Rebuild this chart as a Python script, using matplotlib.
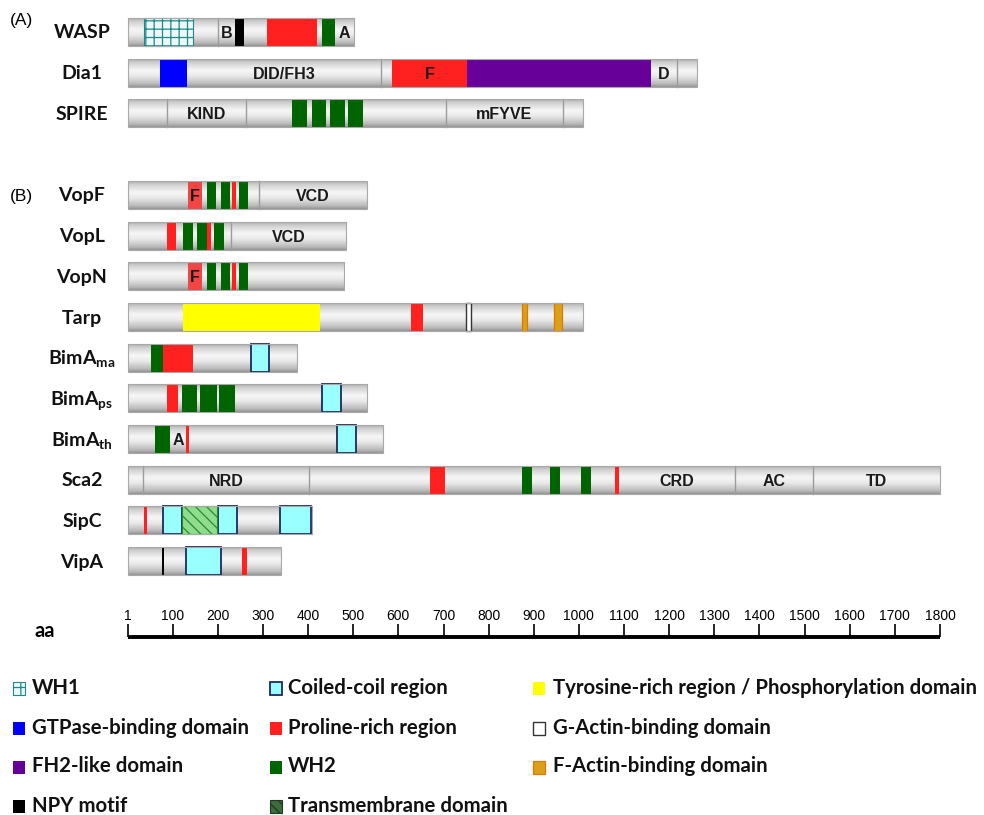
import matplotlib

matplotlib.use("Agg")
import matplotlib.pyplot as plt  # noqa: E402
import numpy as np  # noqa: E402
from matplotlib.colors import LinearSegmentedColormap  # noqa: E402
from matplotlib.patches import Rectangle  # noqa: E402

# ---- protein architecture data (amino-acid positions) ----
group_a = ["WASP", "Dia1", "SPIRE"]
group_b = ["VopF", "VopL", "VopN", "Tarp", "BimA_ma", "BimA_ps",
           "BimA_th", "Sca2", "SipC", "VipA"]

display_names = {
    "BimA_ma": r"$\mathbf{BimA_{ma}}$",
    "BimA_ps": r"$\mathbf{BimA_{ps}}$",
    "BimA_th": r"$\mathbf{BimA_{th}}$",
}

lengths = {
    "WASP": 502, "Dia1": 1262, "SPIRE": 1010,
    "VopF": 530, "VopL": 484, "VopN": 480, "Tarp": 1008,
    "BimA_ma": 376, "BimA_ps": 531, "BimA_th": 567,
    "Sca2": 1800, "SipC": 409, "VipA": 339,
}

wh1 = {"WASP": [(36, 145)]}
gtpase_binding = {"Dia1": [(72, 132)]}
fh2_like = {"Dia1": [(753, 1159)]}
npy_motif = {"WASP": [(238, 258)], "VipA": [(76, 80)]}
fh1_like = {"VopF": [(134, 165)], "VopN": [(134, 165)]}
proline_rich = {
    "WASP": [(309, 420)], "Dia1": [(587, 753)],
    "VopF": [(232, 241)], "VopL": [(88, 107), (176, 185)],
    "VopN": [(232, 241)], "Tarp": [(627, 655)],
    "BimA_ma": [(79, 145)], "BimA_ps": [(88, 112)], "BimA_th": [(130, 136)],
    "Sca2": [(671, 704), (1079, 1088)], "SipC": [(36, 43)], "VipA": [(254, 265)],
}
wh2 = {
    "WASP": [(431, 460)],
    "SPIRE": [(365, 398), (409, 440), (449, 482), (489, 522)],
    "VopF": [(176, 196), (207, 227), (247, 267)],
    "VopL": [(123, 145), (154, 176), (192, 214)],
    "VopN": [(176, 196), (207, 227), (247, 267)],
    "BimA_ma": [(52, 79)],
    "BimA_ps": [(121, 154), (161, 198), (203, 238)],
    "BimA_th": [(61, 94)],
    "Sca2": [(873, 895), (937, 957), (1004, 1026)],
}
tyrosine_rich = {"Tarp": [(123, 427)]}
g_actin_binding = {"Tarp": [(749, 762)]}
f_actin_binding = {"Tarp": [(873, 886), (944, 962)]}
coiled_coil = {
    "BimA_ma": [(274, 314)], "BimA_ps": [(431, 473)], "BimA_th": [(465, 507)],
    "SipC": [(79, 121), (201, 243), (338, 407)], "VipA": [(130, 207)],
}
transmembrane = {"SipC": [(121, 198)]}

# boundaries between unlabelled/labelled grey segments
dividers = {
    "WASP": [201], "Dia1": [562, 1217], "SPIRE": [88, 263, 706, 964],
    "VopF": [292], "VopL": [229], "Sca2": [34, 403, 1345, 1518],
}
region_labels = {
    "WASP": [("B", 201, 238), ("A", 460, 502)],
    "Dia1": [("DID/FH3", 132, 562), ("F", 587, 753), ("D", 1159, 1217)],
    "SPIRE": [("KIND", 88, 263), ("mFYVE", 706, 964)],
    "VopF": [("F", 134, 165), ("VCD", 292, 530)],
    "VopL": [("VCD", 229, 484)],
    "VopN": [("F", 134, 165)],
    "BimA_th": [("A", 94, 130)],
    "Sca2": [("NRD", 34, 403), ("CRD", 1088, 1345), ("AC", 1345, 1518), ("TD", 1518, 1800)],
}

ruler_ticks = [1] + list(range(100, 1801, 100))

legend_columns = [
    [("WH1", "wh1"), ("GTPase-binding domain", "gtpase"),
     ("FH2-like domain", "fh2"), ("NPY motif", "npy")],
    [("Coiled-coil region", "coil"), ("Proline-rich region", "pro"),
     ("WH2", "wh2"), ("Transmembrane domain", "tm_legend")],
    [("Tyrosine-rich region / Phosphorylation domain", "tyr"),
     ("G-Actin-binding domain", "gact"), ("F-Actin-binding domain", "fact")],
]

# ---- styles ----
styles = {
    "wh1": dict(facecolor="#eef8f8", edgecolor="#1f8a8a", hatch="++", lw=0.8),
    "gtpase": dict(facecolor="#0000ff", edgecolor="none"),
    "fh2": dict(facecolor="#660099", edgecolor="none"),
    "npy": dict(facecolor="#000000", edgecolor="none"),
    "fh1": dict(facecolor="#f24646", edgecolor="none"),
    "pro": dict(facecolor="#ff2020", edgecolor="none"),
    "wh2": dict(facecolor="#006400", edgecolor="none"),
    "tyr": dict(facecolor="#ffff00", edgecolor="none"),
    "gact": dict(facecolor="#ffffff", edgecolor="#333333", lw=1.0),
    "fact": dict(facecolor="#d9a01a", edgecolor="#e07800", lw=0.9),
    "coil": dict(facecolor="#99ffff", edgecolor="#1c2a5e", lw=1.3),
    "tm": dict(facecolor="#8fdc8f", edgecolor="#2a8a2a", hatch="\\\\\\", lw=0.8),
    "tm_legend": dict(facecolor="#3d6b3d", edgecolor="#1e3a1e", hatch="\\\\\\", lw=0.8),
}

domain_layers = [
    (tyrosine_rich, "tyr"), (wh1, "wh1"), (gtpase_binding, "gtpase"),
    (fh2_like, "fh2"), (fh1_like, "fh1"), (proline_rich, "pro"), (wh2, "wh2"),
    (npy_motif, "npy"), (g_actin_binding, "gact"), (f_actin_binding, "fact"),
    (coiled_coil, "coil"), (transmembrane, "tm"),
]

plt.rcParams["hatch.linewidth"] = 0.9
plt.rcParams["mathtext.fontset"] = "custom"
plt.rcParams["mathtext.bf"] = "Lato:bold"
plt.rcParams["mathtext.rm"] = "Lato"

NAME_FONT = ["Lato", "DejaVu Sans"]
BOX_FONT = ["Liberation Sans", "DejaVu Sans"]
NARROW_FONT = ["Liberation Sans Narrow", "Liberation Sans", "DejaVu Sans"]

FIG_W, FIG_H = 984, 815
BAR_H = 28
X0_PX, X1_PX = 128, 940  # pixel columns of residue 1 and residue 1800

fig = plt.figure(figsize=(FIG_W / 100, FIG_H / 100), dpi=100)

# bars: x in residues, y in pixel rows
ax = fig.add_axes([0, 0, 1, 1])
aa_per_px = (1800 - 1) / (X1_PX - X0_PX)
xlim = (1 - X0_PX * aa_per_px, 1 + (FIG_W - X0_PX) * aa_per_px)
ax.axis("off")

# overlay for names, panel tags and legend in pixel coordinates
ov = fig.add_axes([0, 0, 1, 1])
ov.set_xlim(0, FIG_W)
ov.set_ylim(FIG_H, 0)
ov.axis("off")

bar_cmap = LinearSegmentedColormap.from_list(
    "bar",
    [(0.0, "#b0b0b0"), (0.12, "#d0d0d0"), (0.4, "#f6f6f6"),
     (0.6, "#eaeaea"), (0.88, "#bcbcbc"), (1.0, "#969696")],
)
gradient = np.linspace(0, 1, 64).reshape(-1, 1)


def draw_protein(name, y):
    top, bottom = y - BAR_H / 2, y + BAR_H / 2
    length = lengths[name]
    ax.imshow(gradient, cmap=bar_cmap, extent=(1, length, bottom, top),
              aspect="auto", interpolation="bilinear", zorder=1)
    for x in dividers.get(name, []):
        ax.plot([x, x], [top, bottom], color="#9c9c9c", lw=1.0, zorder=2)
    for table, kind in domain_layers:
        for start, end in table.get(name, []):
            ax.add_patch(Rectangle((start, top), end - start, BAR_H,
                                   zorder=3, **styles[kind]))
    ax.add_patch(Rectangle((1, top), length - 1, BAR_H, fill=False,
                           ec="#a8a8a8", lw=0.8, zorder=4))
    for text, start, end in region_labels.get(name, []):
        ax.text((start + end) / 2, y + 6, text, ha="center", va="baseline",
                fontsize=11.5, fontweight="bold", family=BOX_FONT,
                color="#1a1a1a", zorder=5)
    ov.text(82, y + 6.5, display_names.get(name, name), ha="center",
            va="baseline", fontsize=14, fontweight="bold", family=NAME_FONT,
            color="#111111")


for i, name in enumerate(group_a):
    draw_protein(name, 32 + i * 40.6)
for i, name in enumerate(group_b):
    draw_protein(name, 195 + i * 40.67)

ov.text(10, 20, "(A)", ha="left", va="center", fontsize=12.5, family=BOX_FONT)
ov.text(10, 197, "(B)", ha="left", va="center", fontsize=12.5, family=BOX_FONT)

# residue ruler
RULER_Y = 637
ax.plot([1, 1800], [RULER_Y, RULER_Y], color="black", lw=2.8,
        solid_capstyle="butt", zorder=2)
ax.vlines(ruler_ticks, RULER_Y - 13, RULER_Y, color="black", lw=1.2)
for t in ruler_ticks:
    ax.text(t, RULER_Y - 17, str(t), ha="center", va="baseline",
            fontsize=10, family=NARROW_FONT)
ov.text(45, RULER_Y, "aa", ha="center", va="baseline", fontsize=14.5,
        fontweight="bold", family=NAME_FONT)

ax.set_xlim(*xlim)
ax.set_ylim(FIG_H, 0)

# legend
col_x = [13, 270, 533]
text_x = [32, 288, 553]
row_y = [688, 728, 767, 806]
for c, column in enumerate(legend_columns):
    for r, (label, kind) in enumerate(column):
        y = row_y[r]
        ov.add_patch(Rectangle((col_x[c], y - 6.5), 12, 13, **styles[kind]))
        ov.text(text_x[c], y + 5.5, label, ha="left", va="baseline",
                fontsize=14.7, fontweight="bold", family=NAME_FONT,
                color="#111111")

fig.savefig("out.png", dpi=100)
